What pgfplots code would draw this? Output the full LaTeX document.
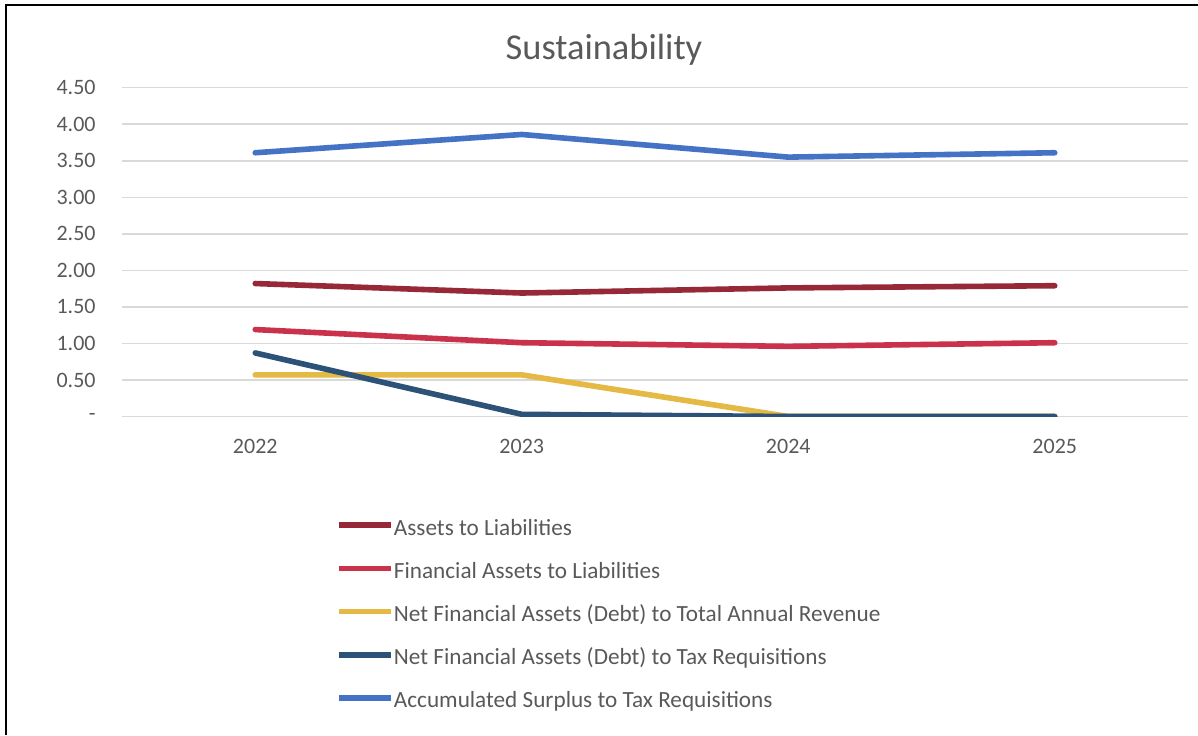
\documentclass[border=0pt]{standalone}
\usepackage{pgfplots}
\pgfplotsset{compat=1.18}
\usepackage{fontspec}
\setmainfont{Carlito}
\definecolor{txt}{RGB}{89,89,89}
\definecolor{grid}{RGB}{217,217,217}
\definecolor{sA}{RGB}{150,40,56}
\definecolor{sB}{RGB}{202,50,76}
\definecolor{sC}{RGB}{228,186,68}
\definecolor{sD}{RGB}{44,82,120}
\definecolor{sE}{RGB}{68,114,196}
\begin{document}
\begin{tikzpicture}
\path[use as bounding box] (0,0) rectangle (599pt,367.5pt);
\draw[line width=1.2pt,black] (3pt,0) -- (3pt,365pt) -- (599pt,365pt);
\node[anchor=base,text=txt,font=\fontsize{18.2}{21}\selectfont,inner sep=0pt] at (302pt,337.85pt) {Sustainability};
\begin{axis}[
  at={(61pt,159.25pt)}, anchor=south west,
  scale only axis, width=533pt, height=164.4pt,
  xmin=-0.5, xmax=3.5, ymin=0, ymax=4.5,
  axis line style={draw=none},
  xtick style={draw=none}, ytick style={draw=none},
  major tick length=0pt,
  xtick={0,1,2,3}, xticklabels={2022,2023,2024,2025},
  ytick={0,0.5,1,1.5,2,2.5,3,3.5,4,4.5},
  yticklabels={{-\hspace{6.5pt}},0.50,1.00,1.50,2.00,2.50,3.00,3.50,4.00,4.50},
  xmajorgrids=false, ymajorgrids=true,
  y grid style={grid, line width=0.75pt},
  ticklabel style={text=txt, font=\fontsize{11}{13}\selectfont},
  yticklabel style={inner sep=0pt, xshift=-13pt, anchor=east},
  xticklabel style={inner sep=0pt, yshift=-11pt, anchor=north},
  legend cell align=left,
  legend style={draw=none, fill=none, at={(0.1951,-0.305)}, anchor=north west,
    font=\fontsize{11.6}{13}\selectfont, text=txt, row sep=12.6pt,
    nodes={inner sep=0pt, text height=7pt, text depth=2pt}},
  legend image code/.code={\draw[#1, line cap=butt] (0pt,2.5pt) -- (26pt,2.5pt);},
  every axis plot/.append style={line width=2.8pt, line cap=round, line join=round},
]
\addplot[sA] coordinates {(0,1.82) (1,1.69) (2,1.76) (3,1.79)};
\addlegendentry{Assets to Liabilities}
\addplot[sB] coordinates {(0,1.19) (1,1.01) (2,0.96) (3,1.01)};
\addlegendentry{Financial Assets to Liabilities}
\addplot[sC] coordinates {(0,0.57) (1,0.57) (2,0) (3,0)};
\addlegendentry{Net Financial Assets (Debt) to Total Annual Revenue}
\addplot[sD] coordinates {(0,0.87) (1,0.03) (2,0) (3,0)};
\addlegendentry{Net Financial Assets (Debt) to Tax Requisitions}
\addplot[sE] coordinates {(0,3.61) (1,3.86) (2,3.55) (3,3.61)};
\addlegendentry{Accumulated Surplus to Tax Requisitions}
\end{axis}
\end{tikzpicture}
\end{document}
